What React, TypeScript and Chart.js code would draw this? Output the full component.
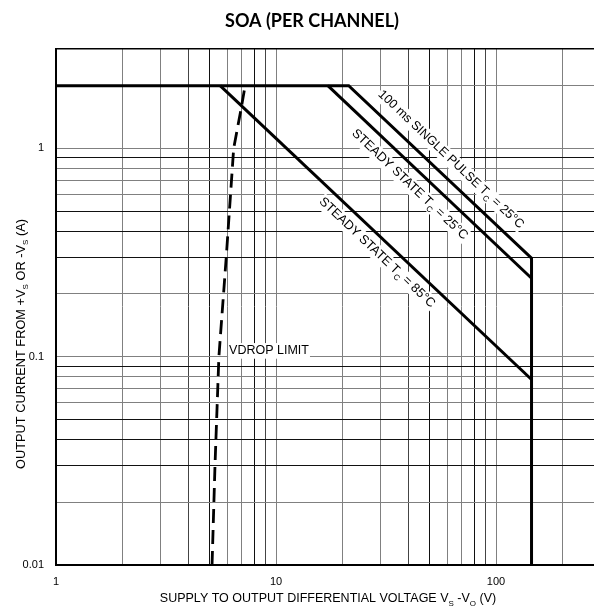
import React, { useEffect, useRef } from "react";
import { Chart, registerables } from "chart.js";

Chart.register(...registerables);

// ---- data ----
const xTickValues = [1, 2, 3, 4, 5, 6, 7, 8, 9, 10, 20, 30, 40, 50, 60, 70, 80, 90, 100, 200, 300];
const yTickValues = [0.01, 0.02, 0.03, 0.04, 0.05, 0.06, 0.07, 0.08, 0.09, 0.1, 0.2, 0.3, 0.4, 0.5, 0.6, 0.7, 0.8, 0.9, 1, 2, 3];
const xTickLabels = ["1", "10", "100"];
const yTickLabels = ["0.01", "0.1", "1"];

const singlePulseV = [1, 21.4, 145, 145];
const singlePulseI = [2, 2, 0.297, 0.01];
const steady25V = [17.2, 145];
const steady25I = [2, 0.238];
const steady85V = [5.57, 145];
const steady85I = [2, 0.0777];
const vdropV = [5.12, 5.28, 5.5, 5.94, 6.42, 6.9, 7.24];
const vdropI = [0.01, 0.03, 0.1, 0.3, 1, 1.5, 2];

const titleText = "SOA (PER CHANNEL)";
const sub = (t: string) => ({ t, sub: true });
const txt = (t: string) => ({ t, sub: false });
const xTitle = [txt("SUPPLY TO OUTPUT DIFFERENTIAL VOLTAGE V"), sub("S"), txt(" -V"), sub("O"), txt(" (V)")];
const yTitle = [txt("OUTPUT CURRENT FROM +V"), sub("S"), txt(" OR -V"), sub("S"), txt(" (A)")];
const spLabel = [txt("100 ms SINGLE PULSE T"), sub("C"), txt(" = 25°C")];
const ss25Label = [txt("STEADY STATE T"), sub("C"), txt(" = 25°C")];
const ss85Label = [txt("STEADY STATE T"), sub("C"), txt(" = 85°C")];
const vdropLabel = [txt("VDROP LIMIT")];
// label anchors in data coordinates
const spLabelAt = [62.4, 0.885];
const ss25LabelAt = [40.6, 0.671];
const ss85LabelAt = [28.8, 0.316];
const vdropLabelAt = [6.12, 0.107];

const zip = (xs: number[], ys: number[]) => xs.map((x, i) => ({ x, y: ys[i] }));

const FONT = '"Liberation Sans", Arial, sans-serif';

type Seg = { t: string; sub: boolean };

function drawRich(
  ctx: CanvasRenderingContext2D,
  segs: Seg[],
  x: number,
  y: number,
  angle: number,
  size: number,
  bg: boolean,
  align: "center" | "left" = "center"
) {
  ctx.save();
  ctx.translate(x, y);
  ctx.rotate(angle);
  const normal = `${size}px ${FONT}`;
  const small = `${Math.round(size * 0.66)}px ${FONT}`;
  const widths = segs.map((s) => {
    ctx.font = s.sub ? small : normal;
    return ctx.measureText(s.t).width;
  });
  const total = widths.reduce((a, b) => a + b, 0);
  const start = align === "center" ? -total / 2 : 0;
  if (bg) {
    ctx.fillStyle = "#fff";
    ctx.fillRect(start - 1, -size * 0.6, total + 2, size * 1.25);
  }
  ctx.fillStyle = "#000";
  ctx.textBaseline = "middle";
  ctx.textAlign = "left";
  let cx = start;
  segs.forEach((s, i) => {
    ctx.font = s.sub ? small : normal;
    ctx.fillText(s.t, cx, s.sub ? size * 0.38 : 0);
    cx += widths[i];
  });
  ctx.restore();
}

function sig(v: number) {
  const e = Math.floor(Math.log10(v) + 1e-9);
  return Math.round(v / Math.pow(10, e));
}

const textPlugin = {
  id: "soaText",
  afterDatasetsDraw(chart: any) {
    const ctx = chart.ctx as CanvasRenderingContext2D;
    const xs = chart.scales.x;
    const ys = chart.scales.y;
    const px = (v: number) => xs.getPixelForValue(v);
    const py = (v: number) => ys.getPixelForValue(v);
    const ang = (x1: number, y1: number, x2: number, y2: number) =>
      Math.atan2(py(y2) - py(y1), px(x2) - px(x1));

    const aSP = ang(singlePulseV[1], singlePulseI[1], singlePulseV[2], singlePulseI[2]);
    const a25 = ang(steady25V[0], steady25I[0], steady25V[1], steady25I[1]);
    const a85 = ang(steady85V[0], steady85I[0], steady85V[1], steady85I[1]);

    drawRich(ctx, spLabel, px(spLabelAt[0]), py(spLabelAt[1]), aSP, 12.6, true);
    drawRich(ctx, ss25Label, px(ss25LabelAt[0]), py(ss25LabelAt[1]), a25, 12.8, true);
    drawRich(ctx, ss85Label, px(ss85LabelAt[0]), py(ss85LabelAt[1]), a85, 12.8, true);
    drawRich(ctx, vdropLabel, px(vdropLabelAt[0]), py(vdropLabelAt[1]), 0, 12.5, true, "left");
  },
  afterDraw(chart: any) {
    const ctx = chart.ctx as CanvasRenderingContext2D;
    ctx.save();
    ctx.font = 'bold 18px Lato, "Open Sans", sans-serif';
    ctx.fillStyle = "#000";
    ctx.textAlign = "center";
    ctx.textBaseline = "middle";
    ctx.fillText(titleText, 312, 21);
    ctx.restore();
    drawRich(ctx, xTitle, 328, 599, 0, 12.5, false);
    drawRich(ctx, yTitle, 21, 344, -Math.PI / 2, 12.8, false);
  },
};

export default function App() {
  const ref = useRef<HTMLCanvasElement | null>(null);
  useEffect(() => {
    if (!ref.current) return;
    const lineDs = (data: { x: number; y: number }[], extra: any = {}) => ({
      data,
      borderColor: "#000",
      backgroundColor: "#000",
      borderWidth: 3,
      pointRadius: 0,
      tension: 0,
      fill: false,
      ...extra,
    });
    const chart = new Chart(ref.current, {
      type: "line",
      data: {
        datasets: [
          lineDs(zip(singlePulseV, singlePulseI)),
          lineDs(zip(steady25V, steady25I)),
          lineDs(zip(steady85V, steady85I)),
          lineDs(zip(vdropV, vdropI), { borderDash: [14, 7], borderWidth: 2.8 }),
        ],
      },
      options: {
        animation: false,
        responsive: false,
        devicePixelRatio: 1,
        layout: { padding: { left: 0, top: 49, right: 39, bottom: 0 } },
        plugins: { legend: { display: false }, tooltip: { enabled: false }, title: { display: false } },
        font: { family: FONT, size: 11 },
        scales: {
          x: {
            type: "logarithmic",
            min: 1,
            max: 300,
            afterBuildTicks: (s: any) => {
              s.ticks = xTickValues.map((v) => ({ value: v }));
            },
            afterFit: (s: any) => {
              s.height = 44;
            },
            ticks: {
              autoSkip: false,
              maxRotation: 0,
              padding: 10,
              color: "#000",
              font: { family: FONT, size: 11 },
              callback: (v: any) => {
                const s = String(v);
                return xTickLabels.includes(s) ? s : "";
              },
            },
            grid: {
              drawTicks: false,
              lineWidth: 1,
              color: (c: any) => {
                const g = sig(c.tick.value);
                if (c.tick.value === 1) return "#000";
                if (g === 5 || g === 8) return "#111";
                if (g === 9 || g === 4) return "#444";
                return "#808080";
              },
            },
            border: { display: true, color: "#000", width: 2 },
          },
          y: {
            type: "logarithmic",
            min: 0.01,
            max: 3,
            afterBuildTicks: (s: any) => {
              s.ticks = yTickValues.map((v) => ({ value: v }));
            },
            afterFit: (s: any) => {
              s.width = 56;
            },
            ticks: {
              autoSkip: false,
              padding: 12,
              color: "#000",
              font: { family: FONT, size: 11 },
              callback: (v: any) => {
                const s = String(v);
                return yTickLabels.includes(s) ? s : "";
              },
            },
            grid: {
              drawTicks: false,
              lineWidth: (c: any) => (c.tick.value === 3 ? 1.5 : 1),
              color: (c: any) => {
                const v = c.tick.value;
                if (v === 3) return "#000";
                const g = sig(v);
                if (g === 9 || g === 5 || g === 4 || g === 3) return "#111";
                return "#808080";
              },
            },
            border: { display: true, color: "#000", width: 2 },
          },
        },
      } as any,
      plugins: [textPlugin],
    });
    return () => chart.destroy();
  }, []);
  return (
    <div
      style={{
        position: "absolute",
        left: 0,
        top: 0,
        width: 594,
        height: 609,
        overflow: "hidden",
        background: "#fff",
      }}
    >
      <canvas ref={ref} width={640} height={609} style={{ display: "block", width: 640, height: 609 }} />
    </div>
  );
}
